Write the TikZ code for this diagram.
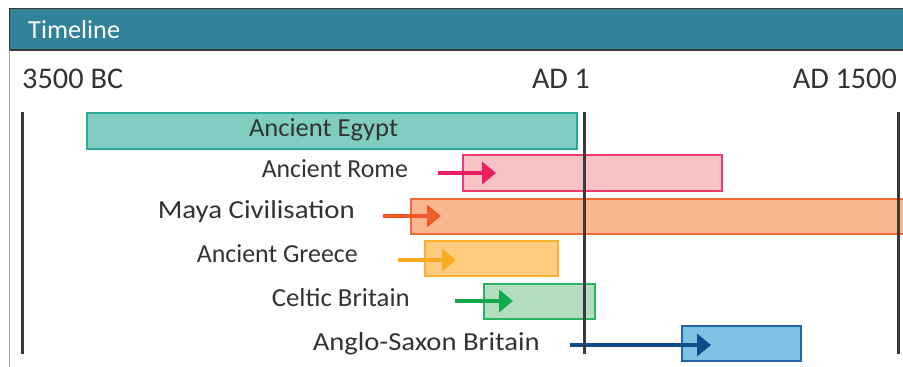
\documentclass[tikz,border=0pt]{standalone}
\usepackage{fontspec}
\usepackage{graphicx}
\setmainfont{Carlito}
\usetikzlibrary{arrows.meta}
\definecolor{hdr}{HTML}{31839A}
\definecolor{frame}{HTML}{3A3A3A}
\definecolor{txt}{HTML}{333333}
\definecolor{egF}{HTML}{7ECDC0}\definecolor{egD}{HTML}{2BA999}
\definecolor{roF}{HTML}{F8C1C4}\definecolor{roD}{HTML}{EE3A6A}\definecolor{roA}{HTML}{EC1E63}
\definecolor{maF}{HTML}{F9B68F}\definecolor{maD}{HTML}{F26B30}\definecolor{maA}{HTML}{F05A28}
\definecolor{grF}{HTML}{FECB7F}\definecolor{grD}{HTML}{FBB12B}\definecolor{grA}{HTML}{FAAA1E}
\definecolor{ceF}{HTML}{B3DDBF}\definecolor{ceD}{HTML}{2DB55F}\definecolor{ceA}{HTML}{12A84B}
\definecolor{anF}{HTML}{7CC2E2}\definecolor{anD}{HTML}{2166A6}\definecolor{anA}{HTML}{0D4B8B}
\newcommand{\wtext}[2]{\resizebox{#1}{\height}{#2}}
\tikzset{
  bar/.style={line width=1.2pt},
  lbl/.style={anchor=base east, inner sep=0pt, text=txt, font=\fontsize{26}{26}\selectfont},
  year/.style={inner sep=0pt, text=txt, font=\fontsize{30}{30}\selectfont},
  era/.style={line width=3pt, draw=frame},
  arr/.style={line width=3.6pt, -{Triangle[length=14pt,width=22pt]}},
}
\begin{document}
\begin{tikzpicture}[x=1pt,y=-1pt]
\useasboundingbox (0,0) rectangle (903,367);
\fill[white] (0,0) rectangle (903,367);
% header
\fill[hdr] (9.5,8.5) rectangle (905,50);
\draw[frame, line width=1.5pt] (905,8.5) -- (9.5,8.5) -- (9.5,50) -- (905,50);
\draw[gray!70, line width=0.8pt] (9.5,50) -- (9.5,368);
\node[anchor=base west, inner sep=0pt, text=white, font=\fontsize{26}{26}\selectfont] (title) at (28,38) {\wtext{92pt}{Timeline}};
% years
\node[year, anchor=base west] (y1) at (22,88) {\wtext{101pt}{3500 BC}};
\node[year, anchor=base east] (y2) at (590,88) {AD 1};
\node[year, anchor=base east] (y3) at (897,88) {\wtext{104pt}{AD 1500}};
% bars
\fill[egF] (87,113) rectangle (577,149); \draw[bar, egD] (87,113) rectangle (577,149);
\fill[roF] (463,155) rectangle (722,191); \draw[bar, roD] (463,155) rectangle (722,191);
\fill[maF] (411,199) rectangle (910,234); \draw[bar, maD] (910,199) -- (411,199) -- (411,234) -- (910,234);
\fill[grF] (425,241) rectangle (558,276); \draw[bar, grD] (425,241) rectangle (558,276);
\fill[ceF] (484,284) rectangle (595,319); \draw[bar, ceD] (484,284) rectangle (595,319);
\fill[anF] (682,326) rectangle (801,361); \draw[bar, anD] (682,326) rectangle (801,361);
% labels
\node[anchor=base, inner sep=0pt, text=txt, font=\fontsize{26}{26}\selectfont] (lEg) at (323.5,136) {\wtext{149pt}{Ancient Egypt}};
\node[lbl] (lRo) at (408,177) {\wtext{146pt}{Ancient Rome}};
\node[lbl] (lMa) at (355,218) {\wtext{197pt}{Maya Civilisation}};
\node[lbl] (lGr) at (358,262) {\wtext{161pt}{Ancient Greece}};
\node[lbl] (lCe) at (410,306) {\wtext{138pt}{Celtic Britain}};
\node[lbl] (lAn) at (540,350) {\wtext{227pt}{Anglo-Saxon Britain}};
% arrows
\coordinate (roS) at (438,173); \coordinate (roE) at (496,173);
\coordinate (maS) at (383,216); \coordinate (maE) at (441,216);
\coordinate (grS) at (398,260); \coordinate (grE) at (456,260);
\coordinate (ceS) at (455,301); \coordinate (ceE) at (513,301);
\coordinate (anS) at (570,345); \coordinate (anE) at (711,345);
\draw[arr, roA] (roS) -- (roE);
\draw[arr, maA] (maS) -- (maE);
\draw[arr, grA] (grS) -- (grE);
\draw[arr, ceA] (ceS) -- (ceE);
\draw[arr, anA] (anS) -- (anE);
% era lines
\coordinate (t1) at (22,112); \coordinate (b1) at (22,354);
\coordinate (t2) at (584,112); \coordinate (b2) at (584,354);
\coordinate (t3) at (898,112); \coordinate (b3) at (898,354);
\draw[era] (t1) -- (b1);
\draw[era] (t2) -- (b2);
\draw[era] (t3) -- (b3);
\end{tikzpicture}
\end{document}
